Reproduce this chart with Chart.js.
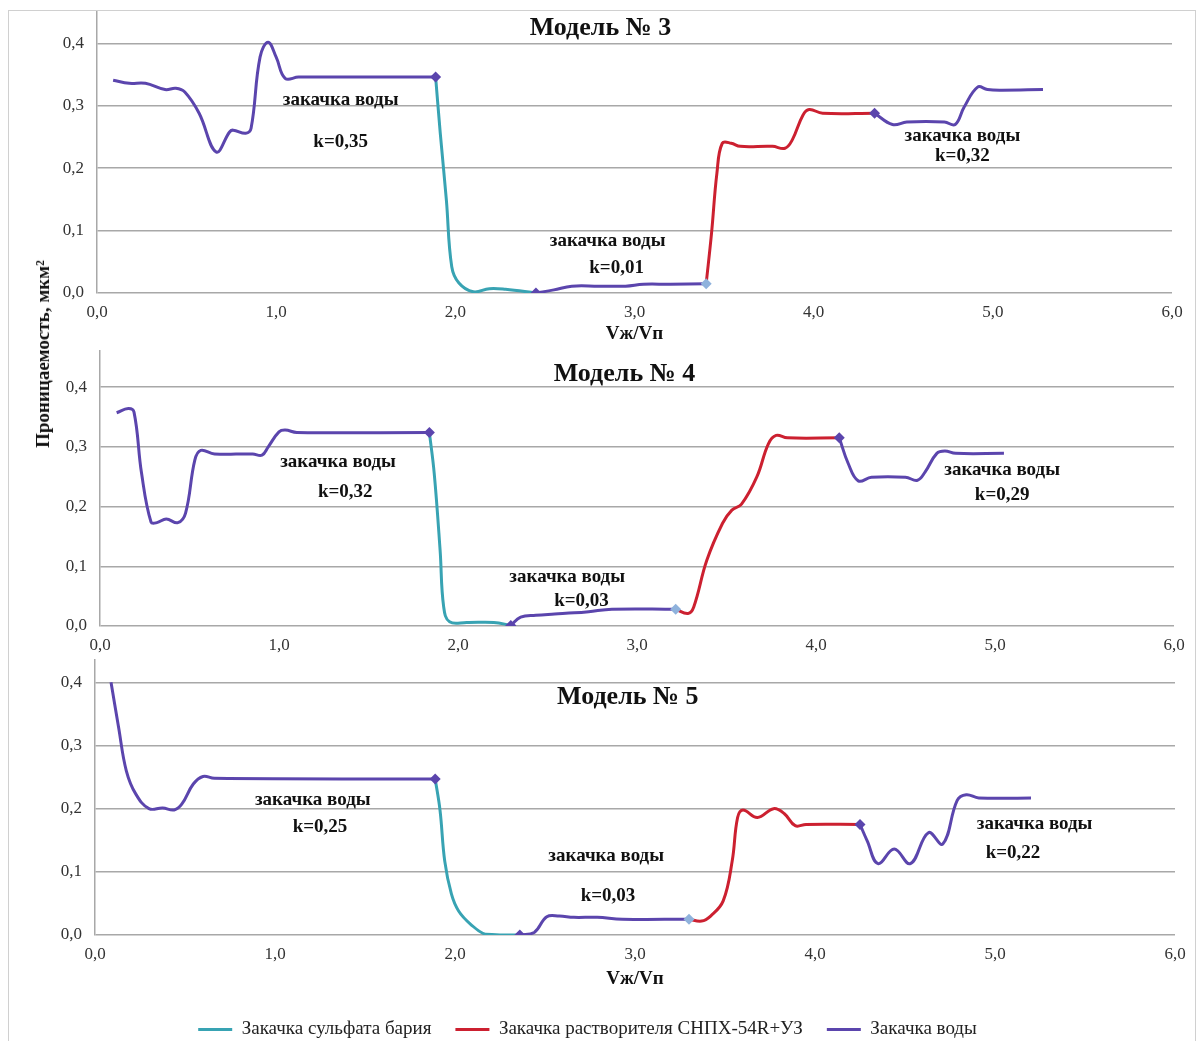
<!DOCTYPE html>
<html>
<head>
<meta charset="utf-8">
<script src="https://cdn.jsdelivr.net/npm/chart.js@4.4.0/dist/chart.umd.min.js"></script>
<style>
  body { margin: 0; background: #fff; width: 1203px; height: 1041px; position: relative; overflow: hidden; font-family: "Liberation Serif", serif; }
  .box { position: absolute; left: 0; width: 1203px; }
  #frame { position: absolute; left: 8px; top: 10px; width: 1186px; height: 1040px; border-left: 1px solid #d0d0d0; border-top: 1px solid #d0d0d0; border-right: 1px solid #d0d0d0; }
  #ylab { position: absolute; left: 43px; top: 354px; transform: translate(-50%, -50%) rotate(-90deg); font-weight: bold; font-size: 19px; white-space: nowrap; color: #111; }
</style>
</head>
<body>
<div id="frame"></div>
<div class="box" style="top:-11px;height:356px"><canvas id="m3"></canvas></div>
<div class="box" style="top:328px;height:327px"><canvas id="m4"></canvas></div>
<div class="box" style="top:637px;height:412px"><canvas id="m5"></canvas></div>
<div id="ylab">Проницаемость, мкм²</div>
<script>
// x = Vж/Vп, y = проницаемость
const m3Water1 = [[0.09,0.341],[0.18,0.336],[0.27,0.336],[0.38,0.326],[0.44,0.328],[0.49,0.322],[0.57,0.288],[0.665,0.226],[0.74,0.258],[0.76,0.261],[0.83,0.256],[0.86,0.264],[0.91,0.378],[0.955,0.402],[1.0,0.378],[1.05,0.344],[1.125,0.346],[1.5,0.346],[1.89,0.346]];
const m3Barium = [[1.89,0.346],[1.916,0.256],[1.95,0.149],[1.98,0.042],[2.02,0.016],[2.1,0.002],[2.19,0.007],[2.28,0.006],[2.45,0.0]];
const m3Water2 = [[2.45,0.0],[2.55,0.005],[2.65,0.011],[2.8,0.011],[2.95,0.011],[3.05,0.014],[3.2,0.014],[3.4,0.015]];
const m3Solvent = [[3.4,0.015],[3.43,0.096],[3.46,0.192],[3.49,0.24],[3.54,0.24],[3.59,0.235],[3.77,0.235],[3.84,0.232],[3.88,0.245],[3.94,0.285],[3.975,0.294],[4.05,0.288],[4.34,0.288]];
const m3Water3 = [[4.34,0.288],[4.44,0.27],[4.52,0.274],[4.73,0.274],[4.79,0.27],[4.84,0.298],[4.915,0.33],[4.97,0.326],[5.05,0.325],[5.28,0.326]];

const m4Water1 = [[0.093,0.357],[0.158,0.364],[0.19,0.358],[0.232,0.256],[0.285,0.174],[0.318,0.173],[0.37,0.179],[0.435,0.173],[0.478,0.189],[0.53,0.278],[0.563,0.294],[0.64,0.288],[0.853,0.288],[0.905,0.286],[0.94,0.3],[1.0,0.325],[1.035,0.328],[1.1,0.324],[1.84,0.324]];
const m4Barium = [[1.84,0.324],[1.867,0.256],[1.9,0.127],[1.92,0.032],[1.953,0.007],[2.05,0.006],[2.2,0.006],[2.295,0.001]];
const m4Water2 = [[2.295,0.001],[2.35,0.015],[2.435,0.018],[2.54,0.02],[2.65,0.022],[2.73,0.024],[2.86,0.028],[3.216,0.028]];
const m4Solvent = [[3.216,0.028],[3.285,0.021],[3.317,0.032],[3.39,0.11],[3.478,0.172],[3.53,0.194],[3.584,0.204],[3.67,0.25],[3.734,0.305],[3.777,0.319],[3.84,0.315],[4.13,0.315]];
const m4Water3 = [[4.13,0.315],[4.18,0.272],[4.236,0.243],[4.31,0.249],[4.5,0.249],[4.567,0.244],[4.61,0.258],[4.675,0.289],[4.72,0.293],[4.78,0.289],[5.05,0.289]];

const m5Water1 = [[0.089,0.4],[0.131,0.329],[0.174,0.26],[0.227,0.223],[0.3,0.2],[0.376,0.201],[0.44,0.198],[0.482,0.207],[0.546,0.239],[0.6,0.251],[0.663,0.248],[1.89,0.247]];
const m5Barium = [[1.89,0.247],[1.917,0.197],[1.943,0.117],[1.98,0.065],[2.02,0.038],[2.087,0.017],[2.17,0.001],[2.28,0.0],[2.36,0.0]];
const m5Water2 = [[2.36,0.0],[2.44,0.004],[2.51,0.029],[2.58,0.03],[2.66,0.028],[2.79,0.028],[2.93,0.025],[3.3,0.025]];
const m5Solvent = [[3.3,0.025],[3.37,0.022],[3.42,0.03],[3.49,0.054],[3.54,0.117],[3.57,0.186],[3.6,0.198],[3.68,0.186],[3.77,0.2],[3.83,0.192],[3.89,0.173],[3.95,0.175],[4.25,0.175]];
const m5Water3 = [[4.25,0.175],[4.29,0.149],[4.35,0.113],[4.44,0.136],[4.53,0.113],[4.63,0.162],[4.71,0.144],[4.79,0.213],[4.84,0.222],[4.91,0.217],[5.2,0.217]];

const xTicks = [0, 1, 2, 3, 4, 5, 6];
const yTicks = [0, 0.1, 0.2, 0.3, 0.4];
const legendNames = ['Закачка сульфата бария', 'Закачка растворителя СНПХ-54R+УЗ', 'Закачка воды'];

const TEAL = '#38a3b3', RED = '#cc2030', PURPLE = '#5b45ad', LIGHT = '#8fb2dc';
const GRID = '#a8a8a8';
const fmt = v => v.toFixed(1).replace('.', ',');
const pts = a => a.map(p => ({ x: p[0], y: p[1] }));

// подписи на графике, в координатах осей
const notesPlugin = {
  id: 'notes',
  afterDatasetsDraw(chart, args, opts) {
    const { ctx, scales: { x, y } } = chart;
    ctx.save();
    ctx.fillStyle = '#111';
    ctx.textAlign = 'center';
    ctx.textBaseline = 'middle';
    (opts.items || []).forEach(n => {
      ctx.font = 'bold ' + (n.size || 19) + 'px "Liberation Serif"';
      ctx.fillText(n.text, x.getPixelForValue(n.x), y.getPixelForValue(n.y));
    });
    ctx.restore();
  }
};

function seg(data, color, label, marks) {
  return {
    label: label,
    data: pts(data),
    borderColor: color,
    backgroundColor: color,
    borderWidth: 3,
    tension: 0.4,
    pointStyle: 'rectRot',
    pointRadius: c => marks[c.dataIndex] ? 5.5 : 0,
    pointHoverRadius: 0,
    pointBorderWidth: 0,
    pointBackgroundColor: c => marks[c.dataIndex] || color
  };
}

function build(id, s, o) {
  const w1 = {}; w1[s.water1.length - 1] = PURPLE;
  const w2 = { 0: PURPLE }; w2[s.water2.length - 1] = LIGHT;
  return new Chart(document.getElementById(id), {
    type: 'line',
    data: {
      datasets: [
        seg(s.water1, PURPLE, legendNames[2], w1),
        seg(s.water2, PURPLE, '', w2),
        seg(s.water3, PURPLE, '', { 0: PURPLE }),
        seg(s.barium, TEAL, legendNames[0], {}),
        seg(s.solvent, RED, legendNames[1], {})
      ]
    },
    plugins: [notesPlugin],
    options: {
      responsive: true,
      maintainAspectRatio: false,
      animation: false,
      layout: { padding: { left: 0, right: 1203 - o.right, top: 0, bottom: 0 } },
      plugins: {
        tooltip: { enabled: false },
        notes: { items: o.notes },
        legend: {
          display: !!o.legend,
          position: 'bottom',
          labels: {
            usePointStyle: true,
            pointStyleWidth: 34,
            padding: 24,
            color: '#222',
            font: { family: '"Liberation Serif"', size: 19 },
            generateLabels: chart => chart.data.datasets.map((d, i) => ({
              text: d.label,
              strokeStyle: d.borderColor,
              fillStyle: d.borderColor,
              lineWidth: 3,
              pointStyle: 'line',
              hidden: false,
              datasetIndex: i,
              fontColor: '#222'
            })),
            filter: item => item.text !== '',
            sort: (a, b) => legendNames.indexOf(a.text) - legendNames.indexOf(b.text)
          }
        }
      },
      scales: {
        x: {
          type: 'linear',
          min: 0,
          max: 6,
          afterBuildTicks: sc => { sc.ticks = xTicks.map(v => ({ value: v })); },
          ticks: { callback: fmt, padding: 9, maxRotation: 0, color: '#333', font: { family: '"Liberation Serif"', size: 17 } },
          grid: { display: false, drawTicks: false },
          border: { display: false },
          title: {
            display: !!o.xTitle,
            text: 'Vж/Vп',
            color: '#111',
            padding: { top: 0, bottom: o.titlePad || 0 },
            font: { family: '"Liberation Serif"', size: 19, weight: 'bold' }
          },
          afterFit: sc => { sc.height = o.xh; }
        },
        y: {
          min: 0,
          max: o.ymax,
          afterBuildTicks: sc => { sc.ticks = yTicks.map(v => ({ value: v })); },
          ticks: { callback: fmt, padding: 13, color: '#333', font: { family: '"Liberation Serif"', size: 17 } },
          grid: { color: GRID, lineWidth: 1.5, drawTicks: false },
          border: { color: GRID, width: 1.5 },
          afterFit: sc => { sc.width = o.left; }
        }
      }
    }
  });
}

build('m3', { water1: m3Water1, barium: m3Barium, water2: m3Water2, solvent: m3Solvent, water3: m3Water3 }, {
  left: 97, right: 1172, xh: 52, ymax: 0.45, xTitle: true,
  notes: [
    { x: 2.81, y: 0.424, text: 'Модель № 3', size: 26 },
    { x: 1.36, y: 0.309, text: 'закачка воды' },
    { x: 1.36, y: 0.242, text: 'k=0,35' },
    { x: 2.85, y: 0.083, text: 'закачка воды' },
    { x: 2.9, y: 0.04, text: 'k=0,01' },
    { x: 4.83, y: 0.251, text: 'закачка воды' },
    { x: 4.83, y: 0.219, text: 'k=0,32' }
  ]
});

build('m4', { water1: m4Water1, barium: m4Barium, water2: m4Water2, solvent: m4Solvent, water3: m4Water3 }, {
  left: 100, right: 1174, xh: 29, ymax: 0.46,
  notes: [
    { x: 2.93, y: 0.421, text: 'Модель № 4', size: 26 },
    { x: 1.33, y: 0.274, text: 'закачка воды' },
    { x: 1.37, y: 0.224, text: 'k=0,32' },
    { x: 2.61, y: 0.082, text: 'закачка воды' },
    { x: 2.69, y: 0.042, text: 'k=0,03' },
    { x: 5.04, y: 0.261, text: 'закачка воды' },
    { x: 5.04, y: 0.219, text: 'k=0,29' }
  ]
});

build('m5', { water1: m5Water1, barium: m5Barium, water2: m5Water2, solvent: m5Solvent, water3: m5Water3 }, {
  left: 95, right: 1175, xh: 61, titlePad: 6, ymax: 0.435, xTitle: true, legend: true,
  notes: [
    { x: 2.96, y: 0.376, text: 'Модель № 5', size: 26 },
    { x: 1.21, y: 0.213, text: 'закачка воды' },
    { x: 1.25, y: 0.171, text: 'k=0,25' },
    { x: 2.84, y: 0.125, text: 'закачка воды' },
    { x: 2.85, y: 0.062, text: 'k=0,03' },
    { x: 5.22, y: 0.175, text: 'закачка воды' },
    { x: 5.1, y: 0.129, text: 'k=0,22' }
  ]
});
</script>
</body>
</html>
